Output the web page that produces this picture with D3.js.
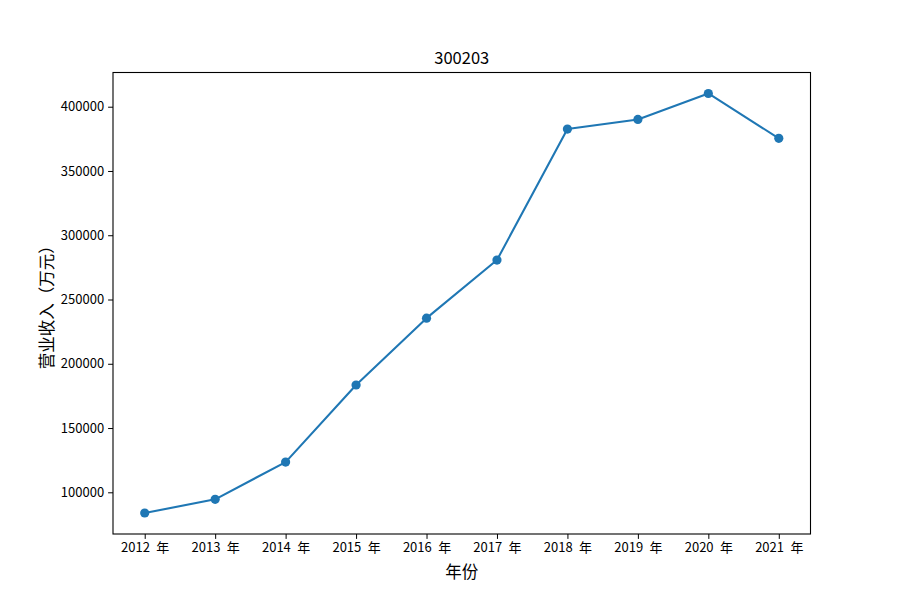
<!DOCTYPE html>
<html><head><meta charset="utf-8">
<script src="https://cdn.jsdelivr.net/npm/d3@7"></script>
<style>body{margin:0;background:#fff}</style>
</head><body>
<svg id="c" width="900" height="600"></svg>
<script>
const years = [2012, 2013, 2014, 2015, 2016, 2017, 2018, 2019, 2020, 2021];
const xLabels = ["2012 年","2013 年","2014 年","2015 年","2016 年","2017 年","2018 年","2019 年","2020 年","2021 年"];
const revenue = [83880, 94550, 123500, 183500, 235500, 280700, 382600, 390100, 410290, 375400];
const yTicks = [100000, 150000, 200000, 250000, 300000, 350000, 400000];
const title = "300203";
const xTitle = "年份";
const yTitle = "营业收入（万元）";

const font = "'Noto Sans CJK SC', 'DejaVu Sans', sans-serif";
const L = 113, R = 810.5, T = 72.5, B = 534;
const svg = d3.select("#c");

const n = years.length;
const x = d3.scaleLinear().domain([-0.45, n - 1 + 0.45]).range([L, R]);
const ymin = d3.min(revenue), ymax = d3.max(revenue), span = ymax - ymin;
const y = d3.scaleLinear().domain([ymin - 0.05 * span, ymax + 0.05 * span]).range([B, T]);

// axes
const xAxis = d3.axisBottom(x).tickValues(d3.range(n)).tickFormat(i => xLabels[i]).tickSize(4.9).tickPadding(4);
const yAxis = d3.axisLeft(y).tickValues(yTicks).tickFormat(d3.format("d")).tickSize(4.9).tickPadding(4);

const gx = svg.append("g").attr("transform", `translate(0,${B})`).call(xAxis);
const gy = svg.append("g").attr("transform", `translate(${L},0)`).call(yAxis);
[gx, gy].forEach(g => {
  g.select(".domain").remove();
  g.selectAll(".tick line").attr("stroke", "#000").attr("stroke-width", 1);
  g.selectAll(".tick text").attr("fill", "#000").style("font-family", font).style("font-size", "13px");
});
gx.selectAll(".tick text").style("word-spacing", "3.5px");

// frame
svg.append("rect").attr("x", L).attr("y", T).attr("width", R - L).attr("height", B - T)
  .attr("fill", "none").attr("stroke", "#000").attr("stroke-width", 1.1);

// line
const line = d3.line().x((d, i) => x(i)).y(d => y(d));
svg.append("path").datum(revenue).attr("d", line).attr("fill", "none")
  .attr("stroke", "#1f77b4").attr("stroke-width", 2.08).attr("stroke-linejoin", "round");
svg.selectAll("circle.pt").data(revenue).enter().append("circle")
  .attr("cx", (d, i) => x(i)).attr("cy", d => y(d)).attr("r", 4.6).attr("fill", "#1f77b4");

// titles
svg.append("text").attr("x", (L + R) / 2).attr("y", 64).attr("text-anchor", "middle")
  .style("font-family", font).style("font-size", "16.5px").text(title);
svg.append("text").attr("x", (L + R) / 2).attr("y", 578).attr("text-anchor", "middle")
  .style("font-family", font).style("font-size", "16.5px").text(xTitle);
svg.append("text").attr("transform", `translate(53,${(T + B) / 2}) rotate(-90)`).attr("text-anchor", "middle")
  .style("font-family", font).style("font-size", "16.5px").text(yTitle);
</script>
</body></html>
